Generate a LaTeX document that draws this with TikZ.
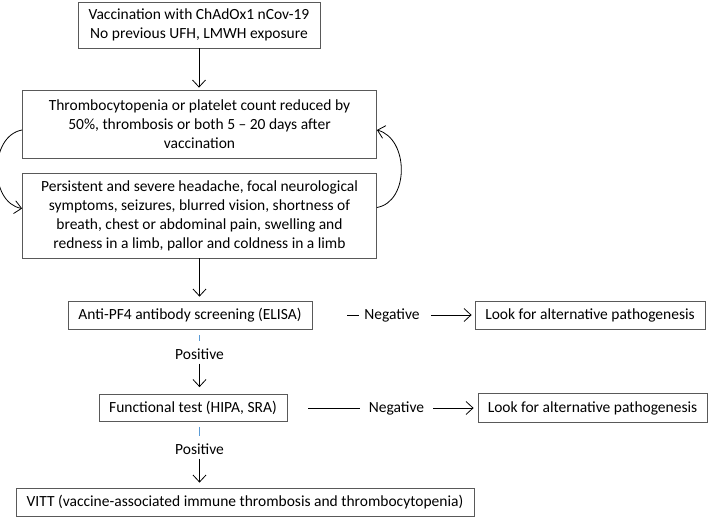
\documentclass[tikz,border=0pt]{standalone}
\usepackage{fontspec}
\setmainfont{Carlito}
\usetikzlibrary{arrows.meta}

\definecolor{tickblue}{RGB}{91,155,213}

\begin{document}
\begin{tikzpicture}[x=1pt,y=-1pt]
	\tikzstyle{every node}=[font=\fontsize{15.5}{19}\selectfont,inner sep=0pt]
	\tikzstyle{box}=[draw=black!65,line width=0.8pt,align=center,minimum height=28pt]
	\tikzstyle{arr}=[-{Straight Barb[length=7pt,width=13pt]},line width=0.8pt]
	\tikzstyle{link}=[line width=0.8pt]
	\tikzstyle{tick}=[draw=tickblue,line width=0.8pt]
	\useasboundingbox (0,0) rectangle (709,518);
	% main column
	\node[box,minimum width=242pt,minimum height=46pt] (vacc) at (199,25)
		{Vaccination with ChAdOx1 nCov-19\\No previous UFH, LMWH exposure};
	\node[box,minimum width=354pt,minimum height=68pt] (thromb) at (199.5,124)
		{Thrombocytopenia or platelet count reduced by\\
		50\%, thrombosis or both 5 -- 20 days after\\vaccination};
	\node[box,minimum width=354pt,minimum height=85pt] (symp) at (199.5,215.5)
		{Persistent and severe headache, focal neurological\\
		symptoms, seizures, blurred vision, shortness of\\
		breath, chest or abdominal pain, swelling and\\
		redness in a limb, pallor and coldness in a limb};
	\node[box,minimum width=244pt] (elisa) at (190,315) {Anti-PF4 antibody screening (ELISA)};
	\node (pos1) at (199.5,354) {Positive};
	\node[box,minimum width=188pt,minimum height=27pt] (func) at (193,408) {Functional test (HIPA, SRA)};
	\node (pos2) at (199.5,449) {Positive};
	\node[box,minimum width=458pt] (vitt) at (245,502) {VITT (vaccine-associated immune thrombosis and thrombocytopenia)};
	% negative branches
	\node (neg1) at (392,315) {Negative};
	\node[box,minimum width=230pt] (look1) at (590,315) {Look for alternative pathogenesis};
	\node (neg2) at (396.5,408) {Negative};
	\node[box,minimum width=229pt,minimum height=29pt] (look2) at (592.5,408) {Look for alternative pathogenesis};
	% connectors
	\draw[arr,shorten >=2pt] (vacc.south) -- (vacc.south |- thromb.north);
	\draw[arr] ([yshift=-6pt]thromb.west) to[out=190,in=170,looseness=1.1] ([yshift=7pt]symp.west);
	\draw[arr] ([yshift=8pt]symp.east) to[out=10,in=-15,looseness=1.1] ([yshift=-6pt]thromb.east);
	\draw[arr,shorten >=4pt] (symp.south) -- (symp.south |- elisa.north);
	\draw[tick,shorten <=6pt,shorten >=7pt] (elisa.south -| pos1) -- (pos1.north);
	\draw[arr,shorten <=4pt,shorten >=7pt] (pos1.south) -- (pos1 |- func.north);
	\draw[tick,shorten <=5pt,shorten >=7pt] (func.south -| pos2) -- (pos2.north);
	\draw[arr,shorten <=4pt,shorten >=5pt] (pos2.south) -- (pos2 |- vitt.north);
	\draw[link,shorten <=35pt,shorten >=5pt] (elisa.east) -- (neg1.west);
	\draw[arr,shorten <=11pt,shorten >=3pt] (neg1.east) -- (look1.west);
	\draw[link,shorten <=21pt,shorten >=9pt] (func.east) -- (neg2.west);
	\draw[arr,shorten <=9pt,shorten >=4pt] (neg2.east) -- (look2.west);
\end{tikzpicture}
\end{document}
